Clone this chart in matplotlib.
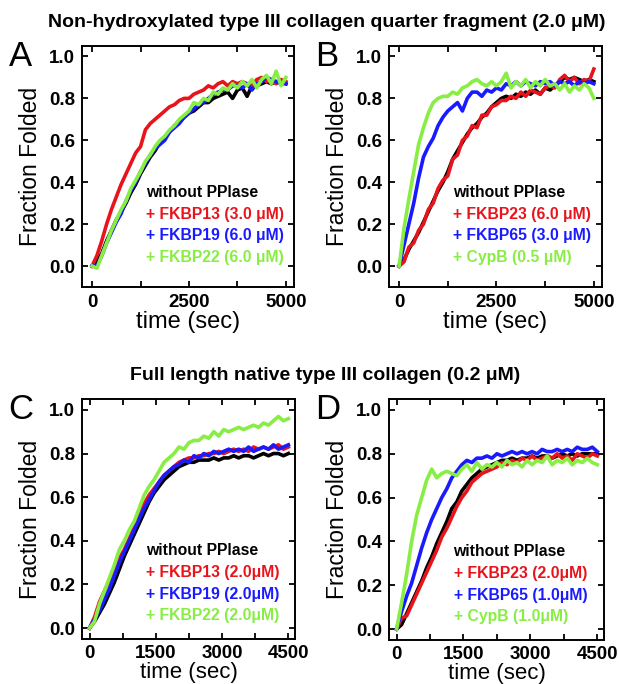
import numpy as np
import matplotlib.pyplot as plt

plt.rcParams['font.family'] = ['Liberation Sans', 'DejaVu Sans']

# sampling times (sec)
time_ab = np.linspace(0, 5000, 41)
time_cd = np.linspace(0, 4500, 41)

# Panel A: non-hydroxylated fragment + FKBP13/19/22
a_none = [0.00, 0.02, 0.06, 0.12, 0.17, 0.22, 0.26, 0.30, 0.35, 0.39, 0.44, 0.48, 0.52, 0.55, 0.59, 0.61,
          0.64, 0.67, 0.69, 0.71, 0.73, 0.74, 0.76, 0.78, 0.78, 0.80, 0.81, 0.82, 0.83, 0.80, 0.84, 0.85,
          0.81, 0.86, 0.86, 0.87, 0.88, 0.87, 0.88, 0.88, 0.87]
a_fkbp13 = [0.00, 0.05, 0.12, 0.20, 0.27, 0.33, 0.39, 0.44, 0.49, 0.54, 0.57, 0.65, 0.68, 0.70, 0.72, 0.74,
            0.76, 0.77, 0.79, 0.80, 0.80, 0.82, 0.83, 0.84, 0.86, 0.85, 0.87, 0.88, 0.86, 0.88, 0.87, 0.88,
            0.87, 0.86, 0.89, 0.90, 0.88, 0.89, 0.87, 0.89, 0.88]
a_fkbp19 = [0.00, 0.00, 0.05, 0.11, 0.16, 0.21, 0.25, 0.31, 0.36, 0.40, 0.45, 0.49, 0.53, 0.56, 0.58, 0.60,
            0.64, 0.66, 0.68, 0.71, 0.73, 0.75, 0.77, 0.78, 0.80, 0.82, 0.83, 0.84, 0.84, 0.86, 0.86, 0.85,
            0.87, 0.84, 0.87, 0.88, 0.90, 0.89, 0.88, 0.87, 0.87]
a_fkbp22 = [0.00, -0.01, 0.05, 0.11, 0.17, 0.22, 0.27, 0.31, 0.37, 0.41, 0.45, 0.50, 0.53, 0.57, 0.60, 0.62,
            0.65, 0.67, 0.70, 0.72, 0.74, 0.78, 0.77, 0.80, 0.79, 0.83, 0.82, 0.85, 0.84, 0.87, 0.85, 0.88,
            0.86, 0.89, 0.85, 0.89, 0.91, 0.87, 0.93, 0.86, 0.90]

# Panel B: non-hydroxylated fragment + FKBP23/65, CypB
b_none = [0.00, 0.03, 0.08, 0.12, 0.16, 0.21, 0.26, 0.31, 0.36, 0.40, 0.45, 0.51, 0.55, 0.59, 0.63, 0.66,
          0.68, 0.71, 0.73, 0.76, 0.78, 0.80, 0.81, 0.80, 0.82, 0.81, 0.83, 0.82, 0.84, 0.82, 0.85, 0.84,
          0.86, 0.88, 0.90, 0.89, 0.90, 0.89, 0.88, 0.89, 0.88]
b_fkbp23 = [0.00, 0.02, 0.09, 0.11, 0.17, 0.20, 0.27, 0.30, 0.37, 0.41, 0.43, 0.51, 0.53, 0.60, 0.62, 0.67,
            0.66, 0.72, 0.72, 0.76, 0.77, 0.79, 0.79, 0.81, 0.80, 0.83, 0.81, 0.84, 0.83, 0.82, 0.85, 0.86,
            0.85, 0.89, 0.91, 0.88, 0.90, 0.87, 0.89, 0.88, 0.94]
b_fkbp65 = [0.00, 0.10, 0.20, 0.30, 0.42, 0.52, 0.57, 0.61, 0.67, 0.71, 0.74, 0.76, 0.78, 0.74, 0.80, 0.83,
            0.83, 0.81, 0.84, 0.83, 0.85, 0.84, 0.87, 0.86, 0.88, 0.86, 0.88, 0.87, 0.86, 0.88, 0.87, 0.88,
            0.86, 0.88, 0.87, 0.88, 0.86, 0.88, 0.87, 0.88, 0.87]
b_cypb = [0.00, 0.18, 0.32, 0.45, 0.58, 0.66, 0.73, 0.78, 0.80, 0.81, 0.81, 0.83, 0.82, 0.85, 0.86, 0.88,
          0.89, 0.87, 0.86, 0.88, 0.86, 0.88, 0.92, 0.85, 0.88, 0.86, 0.89, 0.85, 0.88, 0.86, 0.89, 0.86,
          0.87, 0.84, 0.87, 0.83, 0.86, 0.84, 0.87, 0.85, 0.80]

# Panel C: full length native collagen + FKBP13/19/22
c_none = [0.00, 0.03, 0.07, 0.11, 0.16, 0.21, 0.27, 0.33, 0.38, 0.43, 0.48, 0.53, 0.58, 0.62, 0.65, 0.68,
          0.70, 0.72, 0.74, 0.75, 0.76, 0.76, 0.77, 0.77, 0.77, 0.78, 0.77, 0.78, 0.78, 0.79, 0.78, 0.79,
          0.79, 0.78, 0.79, 0.80, 0.79, 0.80, 0.80, 0.79, 0.80]
c_fkbp13 = [0.00, 0.05, 0.12, 0.17, 0.22, 0.28, 0.32, 0.36, 0.41, 0.46, 0.52, 0.57, 0.61, 0.64, 0.67, 0.70,
            0.72, 0.74, 0.76, 0.77, 0.78, 0.78, 0.79, 0.79, 0.80, 0.80, 0.81, 0.80, 0.81, 0.82, 0.81, 0.82,
            0.81, 0.83, 0.82, 0.83, 0.82, 0.83, 0.84, 0.82, 0.83]
c_fkbp19 = [0.00, 0.04, 0.08, 0.13, 0.18, 0.24, 0.30, 0.35, 0.40, 0.45, 0.50, 0.55, 0.59, 0.63, 0.67, 0.70,
            0.72, 0.74, 0.75, 0.77, 0.76, 0.79, 0.78, 0.80, 0.79, 0.81, 0.80, 0.81, 0.82, 0.81, 0.82, 0.81,
            0.83, 0.81, 0.82, 0.83, 0.82, 0.84, 0.82, 0.83, 0.84]
c_fkbp22 = [0.00, 0.03, 0.11, 0.17, 0.23, 0.29, 0.36, 0.40, 0.45, 0.49, 0.55, 0.61, 0.65, 0.68, 0.72, 0.76,
            0.78, 0.80, 0.83, 0.82, 0.85, 0.86, 0.86, 0.88, 0.87, 0.90, 0.88, 0.91, 0.90, 0.91, 0.92, 0.91,
            0.92, 0.93, 0.92, 0.94, 0.93, 0.95, 0.97, 0.95, 0.96]

# Panel D: full length native collagen + FKBP23/65, CypB
d_none = [0.00, 0.02, 0.07, 0.12, 0.17, 0.22, 0.28, 0.33, 0.39, 0.44, 0.49, 0.55, 0.58, 0.63, 0.66, 0.69,
          0.71, 0.73, 0.74, 0.75, 0.76, 0.77, 0.77, 0.78, 0.77, 0.78, 0.78, 0.79, 0.78, 0.79, 0.79, 0.78,
          0.79, 0.80, 0.79, 0.80, 0.79, 0.80, 0.80, 0.80, 0.80]
d_fkbp23 = [0.00, 0.05, 0.06, 0.11, 0.16, 0.21, 0.26, 0.31, 0.36, 0.42, 0.46, 0.51, 0.56, 0.60, 0.63, 0.67,
            0.69, 0.71, 0.72, 0.73, 0.74, 0.76, 0.75, 0.77, 0.76, 0.78, 0.77, 0.79, 0.77, 0.78, 0.79, 0.78,
            0.80, 0.78, 0.79, 0.77, 0.80, 0.79, 0.78, 0.80, 0.79]
d_fkbp65 = [0.00, 0.08, 0.15, 0.21, 0.29, 0.37, 0.44, 0.50, 0.55, 0.60, 0.64, 0.69, 0.72, 0.75, 0.77, 0.76,
            0.78, 0.78, 0.79, 0.78, 0.80, 0.79, 0.80, 0.81, 0.80, 0.81, 0.80, 0.81, 0.80, 0.82, 0.81, 0.81,
            0.82, 0.81, 0.82, 0.81, 0.83, 0.82, 0.82, 0.83, 0.81]
d_cypb = [0.00, 0.12, 0.25, 0.40, 0.52, 0.60, 0.68, 0.73, 0.69, 0.71, 0.72, 0.71, 0.70, 0.73, 0.75, 0.72,
          0.76, 0.73, 0.75, 0.74, 0.76, 0.74, 0.77, 0.75, 0.76, 0.74, 0.77, 0.75, 0.77, 0.76, 0.79, 0.75,
          0.77, 0.76, 0.78, 0.75, 0.77, 0.76, 0.78, 0.76, 0.75]

colors = ['black', '#e8141c', '#1a1aff', '#88ee44']

labels_a = ['without PPlase', '+ FKBP13 (3.0 \u03bcM)', '+ FKBP19 (6.0 \u03bcM)', '+ FKBP22 (6.0 \u03bcM)']
labels_b = ['without PPlase', '+ FKBP23 (6.0 \u03bcM)', '+ FKBP65 (3.0 \u03bcM)', '+ CypB (0.5 \u03bcM)']
labels_c = ['without PPlase', '+ FKBP13 (2.0\u03bcM)', '+ FKBP19 (2.0\u03bcM)', '+ FKBP22 (2.0\u03bcM)']
labels_d = ['without PPlase', '+ FKBP23 (2.0\u03bcM)', '+ FKBP65 (1.0\u03bcM)', '+ CypB (1.0\u03bcM)']

W, H = 619, 684
fig = plt.figure(figsize=(W / 100, H / 100), dpi=100)


def make_axes(left, top, right, bottom):
    return fig.add_axes([left / W, 1 - bottom / H, (right - left) / W, (bottom - top) / H])


panels = [
    (make_axes(82, 46, 294, 287), 'A', time_ab, [a_none, a_fkbp13, a_fkbp19, a_fkbp22], labels_a),
    (make_axes(389, 46, 602, 287), 'B', time_ab, [b_none, b_fkbp23, b_fkbp65, b_cypb], labels_b),
    (make_axes(82, 399, 295, 639), 'C', time_cd, [c_none, c_fkbp13, c_fkbp19, c_fkbp22], labels_c),
    (make_axes(389, 399, 604, 640), 'D', time_cd, [d_none, d_fkbp23, d_fkbp65, d_cypb], labels_d),
]

for ax, letter, t, series, labels in panels:
    for y, c in zip(series, colors):
        ax.plot(t, y, color=c, lw=2.6, solid_joinstyle='round')

    if letter in 'AB':
        ax.set_xlim(-260, 5210)
        ax.set_ylim(-0.1, 1.05)
        ax.set_xticks([0, 2500, 5000])
        ax.set_xticks([1250, 3750], minor=True)
        ty = 0.373
        xpad, xsize, tpad = 0, 17, 5
    else:
        ax.set_xlim(-170, 4650)
        ax.set_ylim(-0.05, 1.05)
        ax.set_xticks([0, 1500, 3000, 4500])
        ax.set_xticks([750, 2250, 3750], minor=True)
        ty = 0.348
        xpad, xsize, tpad = 0, 16, 4
    ax.set_yticks([0.0, 0.2, 0.4, 0.6, 0.8, 1.0])
    ax.yaxis.set_major_formatter(plt.FormatStrFormatter('%.1f'))

    ax.tick_params(which='both', direction='in', top=True, right=True, length=4.5, width=1.3,
                   labelsize=13.5, pad=5)
    ax.tick_params(axis='x', pad=tpad)
    for lab in ax.get_xticklabels() + ax.get_yticklabels():
        lab.set_fontweight('bold')
    for sp in ax.spines.values():
        sp.set_linewidth(1.4)

    ax.set_ylabel('Fraction Folded', fontsize=16.5, labelpad=5)
    ax.set_xlabel('time (sec)', fontsize=xsize, labelpad=xpad)

    # panel letter
    ax.text(-0.345, 0.955, letter, transform=ax.transAxes, fontsize=25, ha='left', va='center')

    # coloured legend text
    for i, (lab, c) in enumerate(zip(labels, colors)):
        ax.text(0.30, ty - i * 0.09, lab, transform=ax.transAxes, color=c, fontsize=11.3,
                fontweight='bold', ha='left', va='baseline')

fig.text(327 / W, 1 - 27 / H, 'Non-hydroxylated type III collagen quarter fragment (2.0 \u03bcM)',
         fontsize=14, fontweight='bold', ha='center', va='baseline')
fig.text(325 / W, 1 - 380 / H, 'Full length native type III collagen (0.2 \u03bcM)',
         fontsize=14, fontweight='bold', ha='center', va='baseline')

plt.savefig('out.png', dpi=100)
